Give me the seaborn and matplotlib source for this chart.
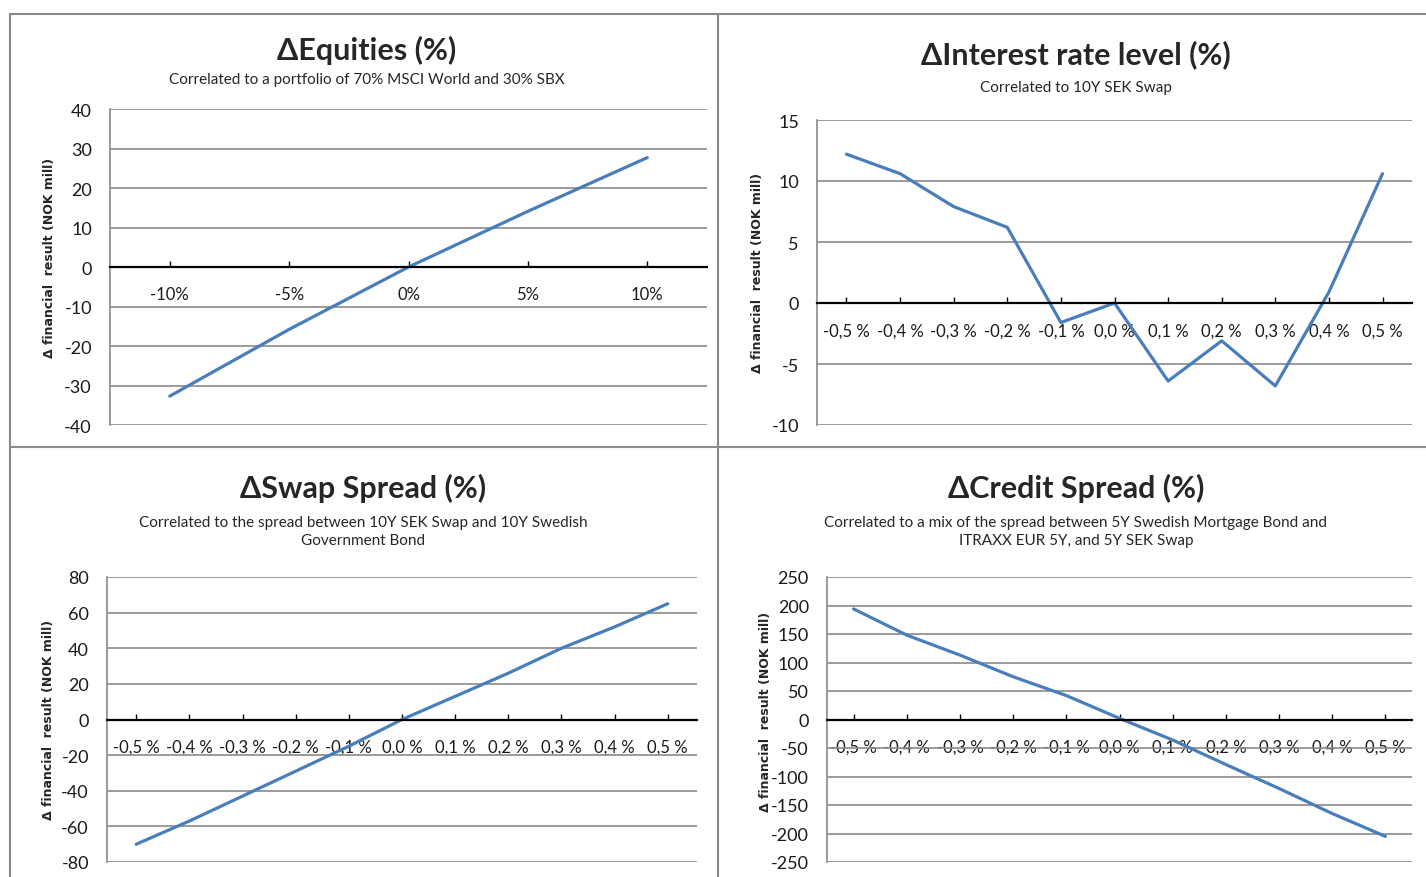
import numpy as np
import pandas as pd
import seaborn as sns
from matplotlib import pyplot as plt
from matplotlib.lines import Line2D

# values
eq_x = [-10, -5, 0, 5, 10]
eq_y = [-32.7, -15.8, 0.0, 14.1, 27.7]
eq_labels = ["-10%", "-5%", "0%", "5%", "10%"]

shift_x = [-0.5, -0.4, -0.3, -0.2, -0.1, 0.0, 0.1, 0.2, 0.3, 0.4, 0.5]
shift_labels = ["-0,5 %", "-0,4 %", "-0,3 %", "-0,2 %", "-0,1 %", "0,0 %",
                "0,1 %", "0,2 %", "0,3 %", "0,4 %", "0,5 %"]

rate_y = [12.2, 10.6, 7.9, 6.2, -1.6, 0.0, -6.4, -3.1, -6.8, 0.9, 10.6]
swap_y = [-70, -57, -43, -29, -15, 0, 13, 26, 40, 52, 65]
credit_y = [194, 148, 113, 75, 42, 2, -36, -79, -121, -165, -205]

titles = ["ΔEquities (%)", "ΔInterest rate level (%)",
          "ΔSwap Spread (%)", "ΔCredit Spread (%)"]
subtitles = ["Correlated to a portfolio of 70% MSCI World and 30% SBX",
             "Correlated to 10Y SEK Swap",
             "Correlated to the spread between 10Y SEK Swap and 10Y Swedish\nGovernment Bond",
             "Correlated to a mix of the spread between 5Y Swedish Mortgage Bond and\nITRAXX EUR 5Y, and 5Y SEK Swap"]
ylabel = "Δ financial  result (NOK mill)"

sns.set_theme(style="white")
plt.rcParams['font.family'] = ['Lato', 'DejaVu Sans']
plt.rcParams['axes.unicode_minus'] = False

W, H = 1426, 878
fig = plt.figure(figsize=(W / 100, H / 100), dpi=100)


def px(x0, y0, x1, y1):
    # pixel box (left, top, right, bottom) -> figure fraction rect
    return [x0 / W, 1 - y1 / H, (x1 - x0) / W, (y1 - y0) / H]


panels = [
    dict(box=(110, 110, 707, 426), x=eq_x, y=eq_y, labels=eq_labels,
         xlim=(-12.5, 12.5), ylim=(-40, 40), step=10,
         tx=367, ty=50, sy=80, lx=50, ly=258),
    dict(box=(817, 121, 1412, 426), x=shift_x, y=rate_y, labels=shift_labels,
         xlim=(-0.555, 0.555), ylim=(-10, 15), step=5,
         tx=1076, ty=55, sy=88, lx=757, ly=273),
    dict(box=(107, 578, 697, 863), x=shift_x, y=swap_y, labels=shift_labels,
         xlim=(-0.555, 0.555), ylim=(-80, 80), step=20,
         tx=363, ty=488, sy=532, lx=49, ly=720),
    dict(box=(827, 578, 1412, 863), x=shift_x, y=credit_y, labels=shift_labels,
         xlim=(-0.55, 0.55), ylim=(-250, 250), step=50,
         tx=1076, ty=488, sy=532, lx=765, ly=712),
]

for i, p in enumerate(panels):
    ax = fig.add_axes(px(*p["box"]))
    df = pd.DataFrame({"x": p["x"], "y": p["y"]})
    sns.lineplot(data=df, x="x", y="y", ax=ax, color="#4a7ebb", linewidth=2.3)
    ax.set_xlim(*p["xlim"])
    ax.set_ylim(*p["ylim"])
    ax.set_yticks(np.arange(p["ylim"][0], p["ylim"][1] + 1, p["step"]))
    ax.set_xticks(p["x"])
    ax.set_xticklabels(p["labels"])
    ax.set_xlabel("")
    ax.set_ylabel("")
    ax.yaxis.grid(True, color="#8a8a8a", linewidth=1.2)
    ax.set_axisbelow(True)
    for s in ["top", "right"]:
        ax.spines[s].set_visible(False)
    ax.spines["left"].set_color("#8a8a8a")
    ax.spines["left"].set_linewidth(1.2)
    ax.spines["bottom"].set_position(("data", 0))
    ax.spines["bottom"].set_color("black")
    ax.spines["bottom"].set_linewidth(1.6)
    ax.tick_params(axis="x", direction="in", length=4, width=1, color="black",
                   pad=14, labelsize=12, bottom=True, labelcolor="#1a1a1a")
    ax.tick_params(axis="y", length=0, pad=13, labelsize=13,
                   labelcolor="#1a1a1a")
    ax.patch.set_alpha(0)

    fig.text(p["tx"] / W, 1 - p["ty"] / H, titles[i], ha="center", va="center",
             fontsize=22, fontweight="bold")
    fig.text(p["tx"] / W, 1 - p["sy"] / H, subtitles[i], ha="center", va="center",
             fontsize=11, linespacing=1.45)
    fig.text(p["lx"] / W, 1 - p["ly"] / H, ylabel, ha="center", va="center",
             rotation=90, fontsize=9, fontweight="bold", family="DejaVu Sans")

# panel borders
border = dict(color="#8a8a8a", linewidth=1.5)
for xs, ys in [((10, W), (15, 15)), ((10, W), (448, 448)),
               ((10, 10), (15, H)), ((718, 718), (15, H))]:
    fig.add_artist(Line2D([x / W for x in xs], [1 - y / H for y in ys], **border))

plt.savefig("out.png", dpi=100)
